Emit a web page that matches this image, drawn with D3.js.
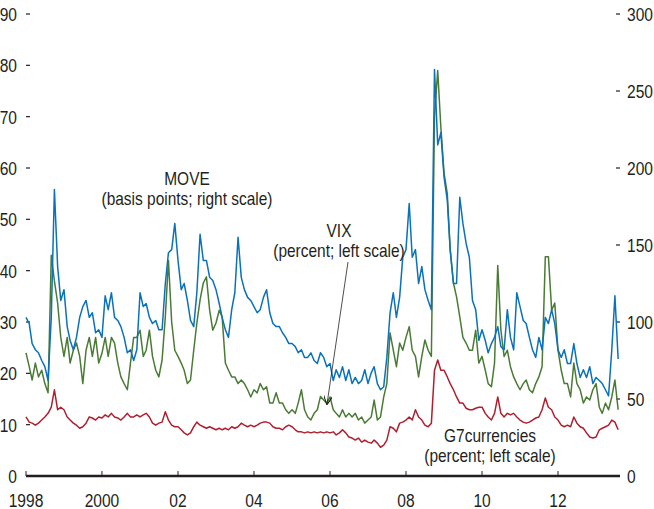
<!DOCTYPE html>
<html>
<head>
<meta charset="utf-8">
<script src="https://cdn.jsdelivr.net/npm/d3@7"></script>
<style>
    body { margin: 0; background: #fff; }
    svg { display: block; }
    text { font-family: "Liberation Sans", Arial, sans-serif; fill: #231f20; }
</style>
</head>
<body>
<svg id="chart" width="654" height="509"></svg>
<script>
// monthly readings, Jan 1998 .. Aug 2013
var startMonth = new Date(1998, 0, 1);

var moveValues = [
    103, 99, 86, 82, 80, 75, 71, 62, 103, 186, 136, 114,
    121, 97, 88, 82, 90, 103, 110, 114, 103, 106, 93, 95,
    90, 117, 108, 119, 103, 101, 97, 90, 80, 82, 75, 82,
    119, 110, 112, 103, 99, 101, 95, 95, 125, 145, 147, 164,
    140, 121, 125, 114, 101, 97, 119, 157, 140, 140, 129, 127,
    121, 112, 103, 95, 90, 108, 119, 155, 129, 121, 116, 114,
    110, 106, 108, 116, 121, 106, 99, 97, 97, 93, 90, 86,
    86, 84, 80, 82, 77, 77, 80, 75, 73, 80, 77, 71,
    73, 62, 69, 64, 71, 62, 69, 60, 64, 60, 62, 69,
    60, 67, 71, 60, 56, 58, 77, 106, 119, 103, 116, 142,
    147, 177, 142, 147, 125, 136, 121, 114, 108, 264, 215, 223,
    194, 179, 147, 125, 125, 181, 164, 151, 142, 114, 108, 88,
    95, 88, 80, 86, 90, 97, 84, 82, 108, 90, 82, 119,
    110, 101, 99, 90, 82, 77, 90, 82, 103, 99, 108, 99,
    82, 77, 82, 73, 73, 86, 73, 64, 69, 64, 71, 60,
    64, 62, 60, 56, 52, 82, 117, 76
];

var vixValues = [
    24, 21.3, 18.7, 22, 19.3, 20.6, 18, 16.2, 43, 38, 33.7, 27,
    23.3, 27, 22, 24.5, 25.9, 23.3, 18, 24.5, 27, 23.3, 27, 22,
    23.9, 27, 23.3, 27, 25.9, 22, 19.3, 18, 16.8, 22, 27, 27,
    28.4, 23.3, 24.5, 28.4, 23.3, 20.6, 19.3, 22.6, 31, 42, 30, 24.5,
    23.3, 22, 20.6, 18, 18.7, 24.5, 29.8, 34.3, 37.6, 38.8, 32.3, 28.4,
    29.8, 32.3, 31, 22, 20.6, 19.3, 19.3, 18, 18.7, 18, 16.8, 15.4,
    16.8, 16.2, 18, 16.8, 17.4, 14.2, 14.2, 16.2, 14.2, 14.2, 12.9, 12.2,
    12.9, 12.2, 14.2, 16.8, 12.9, 11.5, 10.9, 12.2, 12.9, 15.5, 14.8, 14.2,
    15.4, 12.9, 12.2, 11.5, 12.9, 11.5, 12.2, 11.5, 12.2, 10.9, 11.5, 10.3,
    10.9, 11.5, 14.8, 10.9, 11.5, 15.4, 18, 27.9, 24.5, 21.3, 25.9, 24.5,
    27, 29.1, 24.5, 23.3, 19.3, 23.3, 26.5, 24.5, 23.3, 70, 79, 68,
    59, 55, 44, 37.6, 34.9, 31, 27, 25.9, 24.5, 24.5, 28.4, 22,
    23.3, 20.6, 18, 17.4, 22, 41, 28.4, 23.3, 24.5, 21.3, 19.3, 18,
    16.8, 18, 18.7, 16.8, 16.2, 18, 19.3, 21.3, 42.7, 42.7, 32.3, 33.7,
    24.5, 20.6, 18, 18, 15.4, 22, 18, 16.8, 14.2, 15.4, 14.8, 16.8,
    18, 13.4, 12.2, 14.2, 12.9, 15.4, 18.7, 12.9
];

var g7Values = [
    11.5, 10.5, 10.3, 9.9, 10.3, 10.9, 11.5, 12.2, 13.4, 16.8, 12.9, 13.4,
    12.9, 11.5, 10.9, 10.3, 9.9, 9.3, 9.6, 10.3, 11.5, 11.3, 10.9, 11.5,
    11.3, 11.9, 11.5, 12.2, 11.5, 11.3, 10.9, 11.5, 12.2, 11.5, 11.5, 11.9,
    11.5, 11.9, 12.2, 11.5, 10.3, 9.9, 10.3, 10.5, 12.5, 10.9, 9.9, 9.6,
    9.6, 9.0, 8.4, 8.0, 8.4, 9.6, 10.5, 9.9, 9.6, 9.3, 9.6, 9.3,
    9.0, 9.3, 9.0, 9.3, 9.0, 9.6, 9.3, 9.6, 10.3, 9.9, 9.6, 9.9,
    9.6, 9.9, 10.3, 10.5, 10.5, 10.3, 9.6, 9.3, 9.3, 9.0, 9.6, 9.9,
    9.6, 9.0, 8.6, 8.6, 8.4, 8.6, 8.4, 8.6, 8.4, 8.6, 8.4, 8.6,
    8.4, 8.6, 8.0, 8.4, 9.0, 8.4, 7.6, 7.4, 7.0, 7.4, 6.6, 7.0,
    6.6, 6.4, 7.0, 6.4, 5.6, 6.0, 7.0, 9.6, 9.3, 8.6, 10.3, 10.5,
    10.9, 11.5, 10.9, 12.9, 11.5, 10.9, 9.9, 9.6, 10.3, 20.6, 22.6, 20.6,
    20.6, 19.3, 18, 16.8, 15.4, 14.2, 14.2, 13.2, 12.9, 12.9, 13.2, 13.4,
    13.4, 12.2, 11.5, 10.9, 12.2, 15.4, 12.2, 11.5, 12.2, 11.9, 12.2, 11.5,
    10.9, 10.5, 10.3, 10.5, 10.9, 11.3, 11.5, 12.9, 15.2, 13.4, 12.9, 11.5,
    10.9, 9.9, 9.6, 9.9, 9.6, 11.5, 10.3, 9.6, 9.3, 8.4, 7.6, 7.4,
    7.6, 9.0, 9.3, 9.6, 9.9, 10.9, 10.5, 9.0
];

var leftTicks = [0, 10, 20, 30, 40, 50, 60, 70, 80, 90];
var rightTicks = [0, 50, 100, 150, 200, 250, 300];
var yearTicks = [1998, 2000, 2002, 2004, 2006, 2008, 2010, 2012];
var yearLabels = ['1998', '2000', '02', '04', '06', '08', '10', '12'];

(function(){
    'use strict';

    var svg = d3.select('#chart'),
        box = { left: 26, right: 620, top: 14, bottom: 476 },
        months = moveValues.map(function( v, i ){
            return d3.timeMonth.offset( startMonth, i );
        }),
        x = d3.scaleTime()
            .domain( [new Date(1998, 0, 1), new Date(2012, 0, 1)] )
            .range( [box.left, 558] ),
        yLeft = d3.scaleLinear().domain( [0, 90] ).range( [box.bottom, box.top] ),
        yRight = d3.scaleLinear().domain( [0, 300] ).range( [box.bottom, box.top] );

    // no condensed face installed, so squeeze Arial metrics horizontally
    function addText( px, py, s, anchor, size, squeeze ){
        return svg.append( 'text' )
            .attr( 'transform', 'translate(' + px + ',' + py + ') scale(' + squeeze + ',1)' )
            .attr( 'text-anchor', anchor )
            .style( 'font-size', size + 'px' )
            .text( s );
    }

    function drawSeries( values, scale, color ){
        var line = d3.line()
            .x( function( d, i ){ return x( months[i] ); } )
            .y( function( d ){ return scale( d ); } );

        svg.append( 'path' )
            .datum( values )
            .attr( 'fill', 'none' )
            .attr( 'stroke', color )
            .attr( 'stroke-width', 1.5 )
            .attr( 'stroke-linejoin', 'round' )
            .attr( 'd', line );
    }

    // left scale
    leftTicks.forEach( function( t ){
        addText( 17, yLeft( t ) + 7, t, 'end', 19, 0.82 );
        if ( t > 0 ){
            svg.append( 'line' )
                .attr( 'x1', box.left ).attr( 'x2', box.left + 4 )
                .attr( 'y1', yLeft( t ) ).attr( 'y2', yLeft( t ) )
                .attr( 'stroke', '#231f20' ).attr( 'stroke-width', 1.2 );
        }
    });

    // right scale
    rightTicks.forEach( function( t ){
        addText( 627, yRight( t ) + 7, t, 'start', 19, 0.82 );
        if ( t > 0 ){
            svg.append( 'line' )
                .attr( 'x1', box.right - 4 ).attr( 'x2', box.right )
                .attr( 'y1', yRight( t ) ).attr( 'y2', yRight( t ) )
                .attr( 'stroke', '#231f20' ).attr( 'stroke-width', 1.2 );
        }
    });

    drawSeries( g7Values, yLeft, '#b01f2e' );
    drawSeries( vixValues, yLeft, '#4a7b35' );
    drawSeries( moveValues, yRight, '#0a71bb' );

    // x axis
    yearTicks.forEach( function( yr, i ){
        var px = x( new Date(yr, 0, 1) );
        svg.append( 'line' )
            .attr( 'x1', px ).attr( 'x2', px )
            .attr( 'y1', box.bottom - 5 ).attr( 'y2', box.bottom )
            .attr( 'stroke', '#231f20' ).attr( 'stroke-width', 1 );
        addText( px, 507, yearLabels[i], 'middle', 19, 0.82 );
    });

    svg.append( 'line' )
        .attr( 'x1', box.left ).attr( 'x2', box.right )
        .attr( 'y1', box.bottom ).attr( 'y2', box.bottom )
        .attr( 'stroke', '#231f20' ).attr( 'stroke-width', 2.5 );

    // labels
    function label( cx, y, lines ){
        lines.forEach( function( s, i ){
            addText( cx, y + i * 20, s, 'middle', 18, 0.86 );
        });
    }

    label( 187, 185, ['MOVE', '(basis points; right scale)'] );
    label( 339, 237, ['VIX', '(percent; left scale)'] );
    label( 490, 442, ['G7currencies', '(percent; left scale)'] );

    svg.append( 'defs' ).append( 'marker' )
        .attr( 'id', 'arrow' )
        .attr( 'viewBox', '0 0 10 10' )
        .attr( 'refX', 9 ).attr( 'refY', 5 )
        .attr( 'markerWidth', 9 ).attr( 'markerHeight', 9 )
        .attr( 'markerUnits', 'userSpaceOnUse' )
        .attr( 'orient', 'auto' )
        .append( 'path' )
        .attr( 'd', 'M0,0 L10,5 L0,10' )
        .attr( 'fill', 'none' )
        .attr( 'stroke', '#231f20' )
        .attr( 'stroke-width', 1.2 );

    svg.append( 'line' )
        .attr( 'x1', 348 ).attr( 'y1', 262 )
        .attr( 'x2', 327 ).attr( 'y2', 404 )
        .attr( 'stroke', '#231f20' )
        .attr( 'stroke-width', 0.8 )
        .attr( 'marker-end', 'url(#arrow)' );
})();
</script>
</body>
</html>
